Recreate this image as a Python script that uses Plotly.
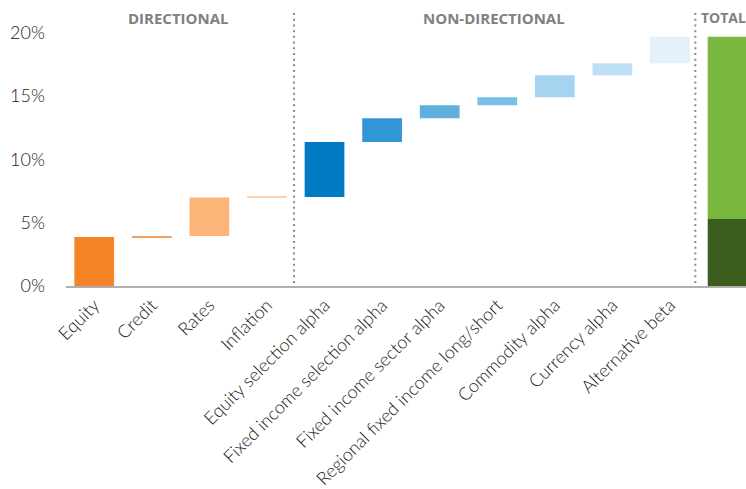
import plotly.graph_objects as go

categories = ["Equity", "Credit", "Rates", "Inflation", "Equity selection alpha",
              "Fixed income selection alpha", "Fixed income sector alpha",
              "Regional fixed income long/short", "Commodity alpha", "Currency alpha",
              "Alternative beta", "Total"]
contrib = [3.87, 0.08, 3.05, 0.04, 4.33, 1.89, 1.03, 0.63, 1.73, 0.95, 2.10]
colors = ["#F58426", "#F0A060", "#FDB57A", "#FCD3B0", "#007AC5", "#3096D8",
          "#5FB0DD", "#7ABFE8", "#A6D3F0", "#BEE0F7", "#E3F1FA"]
total_dark = 5.3
total_colors = ["#3B5E1F", "#7AB73E"]
groups = ["DIRECTIONAL", "NON-DIRECTIONAL", "TOTAL"]
ytickvals = [0, 5, 10, 15, 20]
yticktext = ["0%", "5%", "10%", "15%", "20%"]

bases = []
run = 0.0
for v in contrib:
    bases.append(run)
    run += v
total = run

fig = go.Figure()
fig.add_trace(go.Bar(x=categories[:-1], y=contrib, base=bases,
                     marker=dict(color=colors, line=dict(width=0)),
                     width=0.69, hoverinfo="skip"))
fig.add_trace(go.Bar(x=[categories[-1]], y=[total_dark], base=[0],
                     marker=dict(color=total_colors[0], line=dict(width=0)),
                     width=0.69, hoverinfo="skip"))
fig.add_trace(go.Bar(x=[categories[-1]], y=[total - total_dark], base=[total_dark],
                     marker=dict(color=total_colors[1], line=dict(width=0)),
                     width=0.69, hoverinfo="skip"))

for xpos in [3.47, 10.44]:
    fig.add_shape(type="line", xref="x", yref="y", x0=xpos, x1=xpos, y0=0.24, y1=21.66,
                  line=dict(color="#8a8a8a", width=2, dash="2px,3.7px"))

label_x = [1.46, 6.94, 11.0]
label_size = [15, 15, 14]
for g, xx, sz in zip(groups, label_x, label_size):
    fig.add_annotation(x=xx, y=21.19, xref="x", yref="y", text=g, showarrow=False,
                       xanchor="center" if g != "TOTAL" else "left", yanchor="middle",
                       xshift=0 if g != "TOTAL" else -29,
                       font=dict(family="Open Sans", size=sz, color="#808080", weight="bold"))

fig.update_layout(
    width=746, height=489, showlegend=False, barmode="overlay",
    margin=dict(l=66, r=0, t=0, b=203),
    plot_bgcolor="white", paper_bgcolor="white",
    font=dict(family="Lato", color="#222222"),
    xaxis=dict(range=[-0.49, 11.32], tickvals=categories[:-1], ticktext=categories[:-1],
               tickangle=-45, showgrid=False, showline=True, linecolor="#b0b0b0",
               linewidth=1.5, ticks="", tickfont=dict(size=18, family="Lato", weight=300, color="#222222"),
               zeroline=False),
    yaxis=dict(range=[0, 22.6], tickvals=ytickvals, ticktext=yticktext, showgrid=False,
               showline=False, zeroline=False, ticks="", ticklabelstandoff=20,
               tickfont=dict(size=18, family="Lato", weight=300, color="#222222")),
)

fig.write_html("out.html")
